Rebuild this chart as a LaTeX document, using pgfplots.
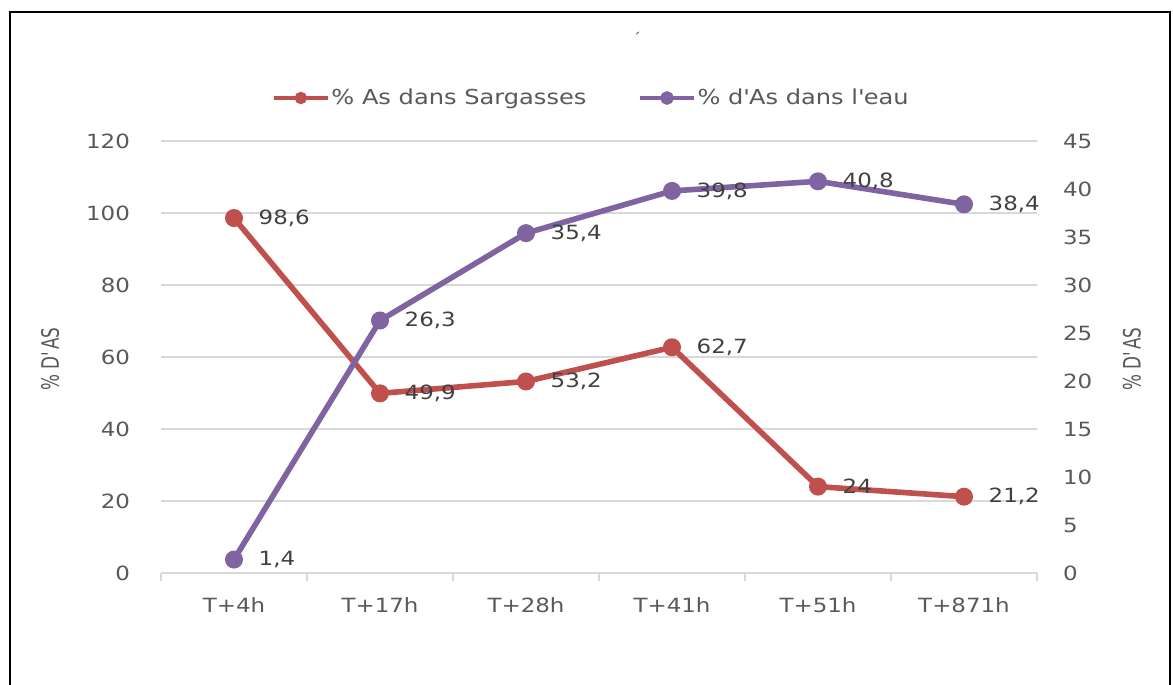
\documentclass[border=0pt]{standalone}
\usepackage{fontspec}
\setmainfont{DejaVu Sans}[FakeStretch=1.17]
\newfontfamily\condfont{DejaVu Sans}[FakeStretch=0.7]
\usepackage{pgfplots}
\pgfplotsset{compat=1.18}

\definecolor{sarg}{HTML}{C0504D}
\definecolor{eau}{HTML}{8064A2}
\definecolor{tick}{HTML}{595959}
\definecolor{lab}{HTML}{404040}
\definecolor{grid}{HTML}{D9D9D9}

\pgfplotsset{
  common/.style={
    at={(80.5pt,56pt)}, anchor=south west,
    scale only axis, width=438pt, height=216pt,
    xmin=-0.5, xmax=5.5, ymin=0,
    clip=false,
    major tick length=0pt,
    /pgf/number format/assume math mode=true,
    /pgf/number format/use comma,
    ticklabel style={font=\fontsize{9.8}{11}\selectfont, text=tick},
    nodes near coords,
    point meta=y,
    nodes near coords align=horizontal,
    every node near coord/.append style={anchor=west, xshift=8.5pt, yshift=0pt,
      font=\fontsize{9.8}{11}\selectfont, text=lab},
    legend image code/.code={
      \draw[mark repeat=2,mark phase=2,##1,line width=1.6pt,mark size=2.6pt]
        plot coordinates {(0pt,0pt)(13.5pt,0pt)(27pt,0pt)};
    },
  },
}

\begin{document}
\begin{tikzpicture}
\useasboundingbox (0,0) rectangle (586.5pt,342.5pt);

\begin{axis}[common,
  ymax=120, ytick={0,20,...,120},
  axis x line*=bottom, axis y line*=left,
  y axis line style={draw=none},
  x axis line style={draw=grid, line width=0.7pt, -},
  xtick={0,...,5},
  xticklabels={T+4h,T+17h,T+28h,T+41h,T+51h,T+871h},
  minor xtick={-0.5,0.5,1.5,2.5,3.5,4.5,5.5},
  minor tick length=4pt, tick align=outside,
  minor tick style={draw=grid, line width=0.7pt},
  xticklabel style={yshift=-9pt},
  yticklabel style={xshift=-12pt},
  ymajorgrids, grid style={draw=grid, line width=0.6pt},
  every axis y label/.style={at={(axis description cs:-0.1267,0.495)},
    rotate=90, anchor=center, font=\condfont\fontsize{12}{14}\selectfont, text=tick},
  ylabel={\% D\textquotesingle AS},
  legend style={at={(axis description cs:0.4914,1.0995)}, anchor=center,
    draw=none, fill=none, inner sep=0pt,
    font=\fontsize{10.3}{12}\selectfont, text=tick,
    /tikz/every even column/.append style={column sep=25pt},
    nodes={inner sep=1pt}},
  legend columns=2,
]
\addplot[sarg, line width=2.8pt, mark=*, mark size=4pt, mark options={fill=sarg, draw=sarg, line width=1pt}]
  coordinates {(0,98.6) (1,49.9) (2,53.2) (3,62.7) (4,24) (5,21.2)};
\addlegendentry{\% As dans Sargasses}
\addlegendimage{eau, line width=2.8pt, mark=*, mark options={fill=eau, draw=eau}}
\addlegendentry{\% d\textquotesingle As dans l\textquotesingle eau}
\end{axis}

\begin{axis}[common,
  ymax=45, ytick={0,5,...,45},
  axis x line=none, axis y line*=right,
  y axis line style={draw=none},
  yticklabel style={xshift=9.5pt},
  every axis y label/.style={at={(axis description cs:1.1084,0.495)},
    rotate=90, anchor=center, font=\condfont\fontsize{12}{14}\selectfont, text=tick},
  ylabel={\% D\textquotesingle AS},
]
\addplot[eau, line width=2.8pt, mark=*, mark size=4pt, mark options={fill=eau, draw=eau, line width=1pt}]
  coordinates {(0,1.4) (1,26.3) (2,35.4) (3,39.8) (4,40.8) (5,38.4)};
\end{axis}

\node[text=tick, font=\fontsize{7}{8}\selectfont] at (318.5pt,323.5pt) {´};
\draw[line width=1.3pt] (5pt,0pt) -- (5pt,336.5pt) -- (585pt,336.5pt) -- (585pt,0pt);
\end{tikzpicture}
\end{document}
